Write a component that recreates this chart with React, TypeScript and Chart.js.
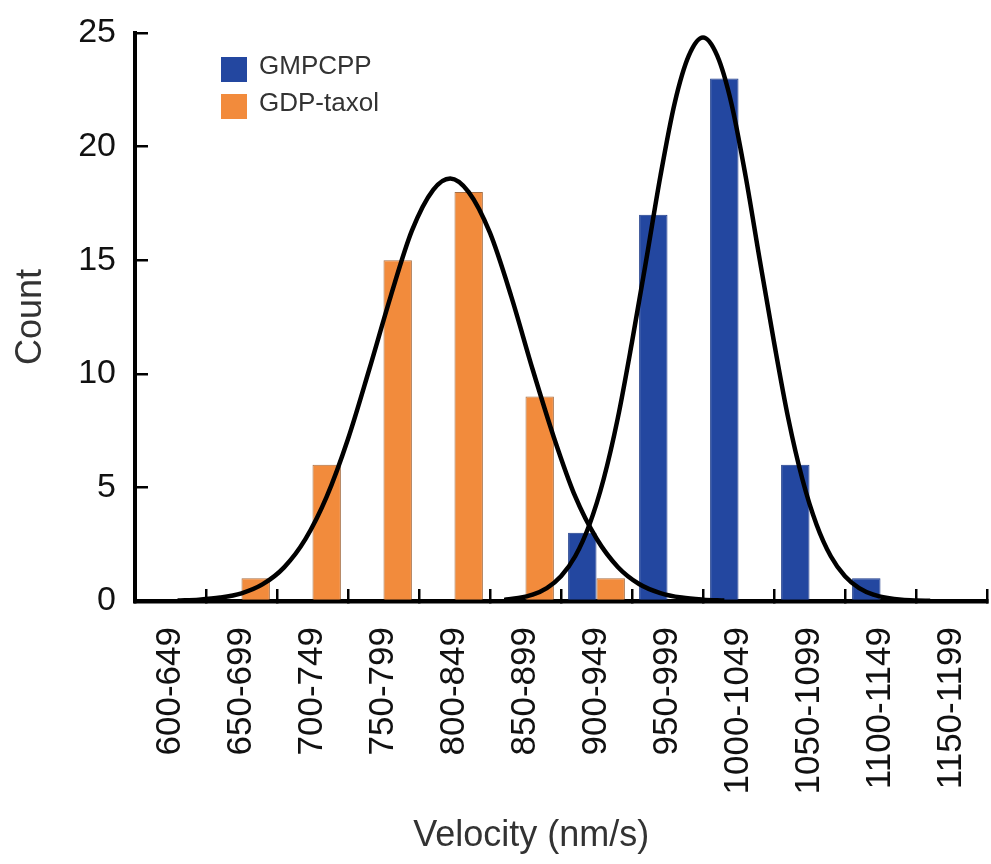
import React, { useEffect, useRef } from "react";
import { Chart, registerables } from "chart.js";

Chart.register(...registerables);

const FONT = '"Liberation Sans", Arial, Helvetica, sans-serif';

// Velocity bins (nm/s)
const categories = [
  "600-649", "650-699", "700-749", "750-799", "800-849", "850-899",
  "900-949", "950-999", "1000-1049", "1050-1099", "1100-1149", "1150-1199",
];
const BIN_START = 600;
const BIN_WIDTH = 50;

// Histogram counts
const gmpcppCounts = [0, 0, 0, 0, 0, 0, 3, 17, 23, 6, 1, 0];
const gdpTaxolCounts = [0, 1, 6, 15, 18, 9, 1, 0, 0, 0, 0, 0];

// Y axis ticks
const yTicks = [0, 5, 10, 15, 20, 25];

// Fitted curve for GDP-taxol (velocity, count)
const gdpFitVelocity = [630, 645, 660, 675, 690, 705, 720, 735, 750, 765, 780, 795, 810, 822, 835, 850, 865, 880, 895, 910, 925, 940, 955, 970, 985, 1000, 1015];
const gdpFitCount = [0.02, 0.06, 0.15, 0.34, 0.74, 1.48, 2.72, 4.59, 7.13, 10.2, 13.4, 16.3, 18.1, 18.6, 18.0, 16.2, 13.4, 10.2, 7.2, 4.6, 2.75, 1.5, 0.75, 0.35, 0.15, 0.06, 0.02];

// Fitted curve for GMPCPP (velocity, count)
const gmpFitVelocity = [860, 870, 880, 890, 900, 910, 920, 930, 940, 950, 960, 970, 980, 990, 1000, 1010, 1020, 1030, 1040, 1050, 1060, 1070, 1080, 1090, 1100, 1110, 1120, 1130, 1140, 1150, 1160];
const gmpFitCount = [0.05, 0.13, 0.28, 0.57, 1.09, 1.97, 3.36, 5.36, 8.05, 11.4, 15.0, 18.7, 21.9, 24.0, 24.8, 24.0, 21.9, 18.7, 15.0, 11.4, 8.05, 5.36, 3.36, 1.97, 1.09, 0.57, 0.28, 0.13, 0.05, 0.02, 0.01];

// velocity (nm/s) -> position on the category axis (bin index, bin centre = integer)
const velocityToBin = (v: number) => (v - BIN_START) / BIN_WIDTH - 0.5;

const BLUE = "#2347A0";
const ORANGE = "#F28B3C";

const insideLegend = {
  id: "insideLegend",
  afterDraw(chart: any) {
    const { ctx, chartArea } = chart;
    const bars = chart.data.datasets.filter((d: any) => d.type !== "line");
    ctx.save();
    ctx.font = `26px ${FONT}`;
    ctx.textBaseline = "middle";
    ctx.textAlign = "left";
    bars.forEach((ds: any, i: number) => {
      const x = chartArea.left + 86;
      const y = chartArea.top + 24 + i * 37;
      ctx.fillStyle = ds.backgroundColor;
      ctx.fillRect(x, y, 26, 25);
      ctx.fillStyle = "#333";
      ctx.fillText(ds.label, x + 38, y + 10);
    });
    ctx.restore();
  },
};

const xAxisTitle = {
  id: "xAxisTitle",
  afterDraw(chart: any) {
    const { ctx, chartArea } = chart;
    ctx.save();
    ctx.font = `36px ${FONT}`;
    ctx.fillStyle = "#333";
    ctx.textAlign = "center";
    ctx.textBaseline = "middle";
    const x = chartArea.left + (chartArea.right - chartArea.left) * 0.465;
    ctx.fillText("Velocity (nm/s)", x, chart.height - 28);
    ctx.restore();
  },
};

export default function App() {
  const ref = useRef<HTMLCanvasElement>(null);

  useEffect(() => {
    const canvas = ref.current;
    if (!canvas) return;
    const chart = new Chart(canvas, {
      type: "bar",
      data: {
        labels: categories,
        datasets: [
          {
            type: "bar",
            label: "GMPCPP",
            data: gmpcppCounts,
            backgroundColor: BLUE,
            borderColor: "#1c3a88",
            borderWidth: 1,
            barPercentage: 1.0,
            categoryPercentage: 0.8,
            order: 1,
          },
          {
            type: "bar",
            label: "GDP-taxol",
            data: gdpTaxolCounts,
            backgroundColor: ORANGE,
            borderColor: "rgba(150,85,35,0.85)",
            borderWidth: 1,
            barPercentage: 1.0,
            categoryPercentage: 0.8,
            order: 1,
          },
          {
            type: "line",
            label: "GDP-taxol fit",
            parsing: false,
            data: gdpFitVelocity.map((v, i) => ({ x: velocityToBin(v), y: gdpFitCount[i] })),
            borderColor: "#000",
            borderWidth: 4.5,
            pointRadius: 0,
            fill: false,
            cubicInterpolationMode: "monotone",
            order: 0,
          },
          {
            type: "line",
            label: "GMPCPP fit",
            parsing: false,
            data: gmpFitVelocity.map((v, i) => ({ x: velocityToBin(v), y: gmpFitCount[i] })),
            borderColor: "#000",
            borderWidth: 4.5,
            pointRadius: 0,
            fill: false,
            cubicInterpolationMode: "monotone",
            order: 0,
          },
        ] as any,
      },
      options: {
        animation: false,
        responsive: false,
        maintainAspectRatio: false,
        layout: { padding: { top: 33, right: 4, bottom: 0, left: 0 } },
        plugins: {
          legend: { display: false },
          tooltip: { enabled: false },
        },
        scales: {
          x: {
            type: "category",
            offset: true,
            grid: {
              display: true,
              drawOnChartArea: false,
              drawTicks: true,
              tickLength: -12,
              lineWidth: 2.5,
              color: "#000",
              offset: true,
            },
            border: { display: true, color: "#000", width: 4.5 },
            ticks: {
              maxRotation: 90,
              minRotation: 90,
              autoSkip: false,
              padding: 38,
              color: "#111",
              font: { size: 35, family: FONT },
            },
            afterFit: (s: any) => {
              s.height = 263;
              s.paddingLeft = 0;
              s.paddingRight = 0;
            },
          },
          y: {
            type: "linear",
            min: 0,
            max: 25,
            afterBuildTicks: (s: any) => {
              s.ticks = yTicks.map((v) => ({ value: v }));
            },
            ticks: {
              padding: 32,
              color: "#111",
              font: { size: 34, family: FONT },
            },
            grid: {
              drawOnChartArea: false,
              drawTicks: true,
              tickLength: -13,
              lineWidth: 2.5,
              color: "#000",
            },
            border: { display: true, color: "#000", width: 4 },
            title: {
              display: true,
              text: "Count",
              color: "#333",
              font: { size: 36, family: FONT },
              padding: { top: 9, bottom: 0 },
            },
            afterFit: (s: any) => {
              s.width = 135;
              s.paddingTop = 0;
              s.paddingBottom = 0;
            },
          },
        } as any,
      },
      plugins: [insideLegend, xAxisTitle],
    } as any);
    return () => chart.destroy();
  }, []);

  return (
    <div style={{ position: "absolute", left: 0, top: 0, width: 991, height: 864, background: "#fff" }}>
      <canvas ref={ref} width={991} height={864} style={{ display: "block" }} />
    </div>
  );
}
